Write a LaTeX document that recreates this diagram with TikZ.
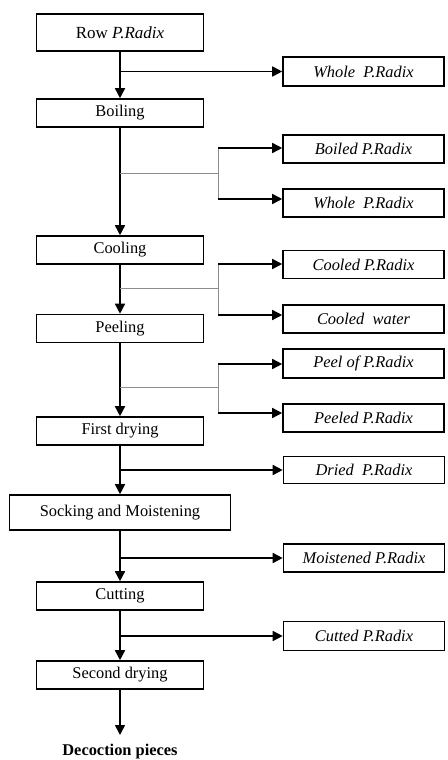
\documentclass[tikz,border=0pt]{standalone}
\usepackage{fontspec}
\setmainfont{Liberation Serif}
\usetikzlibrary{arrows.meta}
\begin{document}
\begin{tikzpicture}[x=1pt,y=-1pt,
  lbox/.style={draw,line width=1.6pt,minimum width=167pt,minimum height=28pt,inner sep=0pt,font=\fontsize{16.4}{19}\selectfont},
  rbox/.style={draw,line width=1.6pt,minimum width=161pt,minimum height=28pt,inner sep=0pt,font=\fontsize{16.4}{19}\selectfont\itshape},
  flow/.style={line width=1.6pt,-{Triangle[length=10pt,width=10pt]}},
  branch/.style={draw=black!45,line width=0.9pt}]
\useasboundingbox (0,0) rectangle (447,760);
% left column
\node[lbox,minimum height=37pt,font=\fontsize{17}{20}\selectfont] (row) at (120,32.5) {Row \textit{P.Radix}};
\node[lbox] (boil) at (120,113) {Boiling};
\node[lbox] (cool) at (120,250) {Cooling};
\node[lbox] (peel) at (120,328.5) {Peeling};
\node[lbox] (fdry) at (120,431) {First drying};
\node[lbox,minimum width=221pt,minimum height=35pt] (sock) at (120,512.5) {Socking and Moistening};
\node[lbox] (cut) at (120,596) {Cutting};
\node[lbox] (sdry) at (120,675) {Second drying};
\node[font=\bfseries\fontsize{16.4}{19}\selectfont,anchor=base,inner sep=0pt] (dec) at (120,755.5) {Decoction pieces};
% right column
\node[rbox,minimum height=29pt] (w1) at (363.5,71.5) {Whole\enspace P.Radix};
\node[rbox] (bo) at (363.5,149) {Boiled P.Radix};
\node[rbox] (w2) at (363.5,203) {Whole\enspace P.Radix};
\node[rbox] (co) at (363.5,264.5) {Cooled P.Radix};
\node[rbox] (cw) at (363.5,319) {Cooled\enspace water};
\node[rbox,minimum height=29pt] (pe) at (363.5,363.5) {Peel of P.Radix};
\node[rbox] (pd) at (363.5,418) {Peeled P.Radix};
\node[rbox,minimum height=27pt] (dr) at (364,470) {Dried\enspace P.Radix};
\node[rbox] (mo) at (364,558) {Moistened P.Radix};
\node[rbox,minimum height=29pt] (ct) at (364,636) {Cutted P.Radix};
% main flow
\draw[flow] (row) -- (boil);
\draw[flow] (boil) -- (cool);
\draw[flow] (cool) -- (peel);
\draw[flow] (peel) -- (fdry);
\draw[flow] (fdry) -- (sock);
\draw[flow] (sock) -- (cut);
\draw[flow] (cut) -- (sdry);
\coordinate (end) at (120,735);
\draw[flow] (sdry) -- (end);
% single branches
\draw[flow] (row.south |- w1.west) -- (w1.west);
\draw[flow] (fdry.south |- dr.west) -- (dr.west);
\draw[flow] (sock.south |- mo.west) -- (mo.west);
\draw[flow] (cut.south |- ct.west) -- (ct.west);
% double branches
\coordinate (j1) at (218,173);
\coordinate (j1a) at (218,148);
\coordinate (j1b) at (218,199);
\draw[branch] (boil.south |- j1) -- (j1);
\draw[branch] (j1a) -- (j1b);
\draw[flow] (j1a) -- (j1a -| bo.west);
\draw[flow] (j1b) -- (j1b -| w2.west);
\coordinate (j2) at (218,288);
\coordinate (j2a) at (218,264);
\coordinate (j2b) at (218,315);
\draw[branch] (cool.south |- j2) -- (j2);
\draw[branch] (j2a) -- (j2b);
\draw[flow] (j2a) -- (j2a -| co.west);
\draw[flow] (j2b) -- (j2b -| cw.west);
\coordinate (j3) at (218,387);
\coordinate (j3a) at (218,364);
\coordinate (j3b) at (218,413);
\draw[branch] (peel.south |- j3) -- (j3);
\draw[branch] (j3a) -- (j3b);
\draw[flow] (j3a) -- (j3a -| pe.west);
\draw[flow] (j3b) -- (j3b -| pd.west);
\end{tikzpicture}
\end{document}
